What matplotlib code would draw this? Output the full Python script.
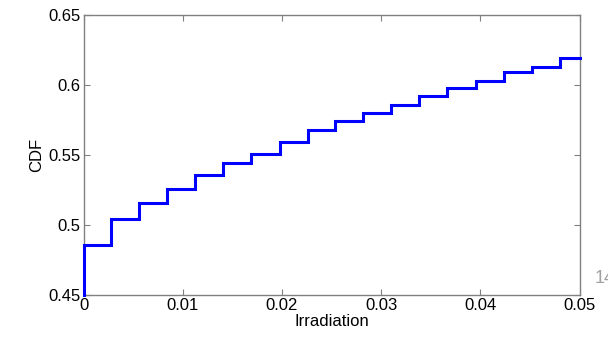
import numpy as np
import matplotlib
matplotlib.use('Agg')
import matplotlib.pyplot as plt

plt.rcParams['font.family'] = ['Liberation Sans', 'DejaVu Sans']

# step locations (Irradiation) and CDF levels
x_jumps = [0.0, 0.00274, 0.00560, 0.00842, 0.01124, 0.01409, 0.01691, 0.01977,
           0.02260, 0.02538, 0.02820, 0.03100, 0.03385, 0.03667, 0.03957,
           0.04240, 0.04520, 0.04800]
cdf_levels = [0.486, 0.504, 0.516, 0.526, 0.536, 0.544, 0.551, 0.559,
              0.568, 0.574, 0.580, 0.586, 0.592, 0.598, 0.603, 0.609,
              0.613, 0.619]
x_end = 0.05
cdf_start = 0.45

xticks = [0, 0.01, 0.02, 0.03, 0.04, 0.05]
xtick_labels = ['0', '0.01', '0.02', '0.03', '0.04', '0.05']
yticks = [0.45, 0.5, 0.55, 0.6, 0.65]
ytick_labels = ['0.45', '0.5', '0.55', '0.6', '0.65']

dpi = 100
fig = plt.figure(figsize=(608/dpi, 342/dpi), dpi=dpi)
ax = fig.add_axes([83.5/608, 47/342, 496/608, 280/342])

xs = [x_jumps[0]] + x_jumps + [x_end]
ys = [cdf_start] + cdf_levels + [cdf_levels[-1]]
ax.step(xs, ys, where='post', color='#0000ff', linewidth=2.2,
        solid_joinstyle='miter', zorder=3, clip_on=False)

ax.set_xlim(0, 0.05)
ax.set_ylim(0.45, 0.65)
ax.set_xticks(xticks)
ax.set_xticklabels(xtick_labels)
ax.set_yticks(yticks)
ax.set_yticklabels(ytick_labels)
ax.tick_params(direction='in', top=True, right=True, length=4, width=0.8,
               color='#808080', labelsize=12, pad=2)
for s in ax.spines.values():
    s.set_color('#808080')
    s.set_linewidth(1.0)

ax.set_xlabel('Irradiation', fontsize=12, labelpad=1)
ax.set_ylabel('CDF', fontsize=12, labelpad=3)

# page number peeking in at the right edge, cut off as in the original
fig.text(595/608, 1 - 283/342, '14', color='#a0a0a0', fontsize=13)

plt.savefig('out.png', dpi=dpi)
plt.close()
